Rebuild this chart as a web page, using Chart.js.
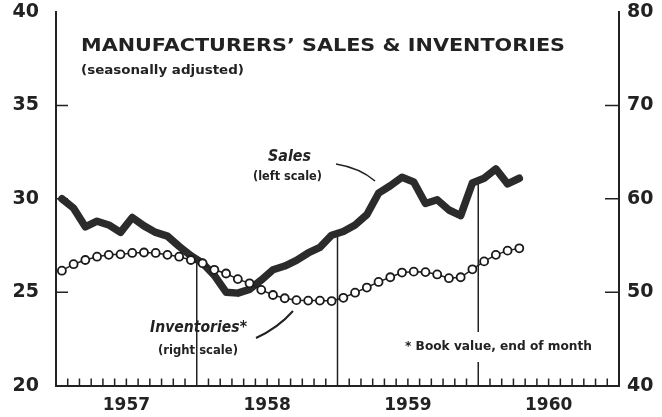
<!DOCTYPE html>
<html>
<head>
    <meta charset="UTF-8">
    <title>Manufacturers' Sales & Inventories</title>
    <style>
        html, body { margin: 0; padding: 0; background: #fff; }
        #wrap { width: 662px; height: 417px; }
    </style>
</head>
<body>
    <div id="wrap"><canvas id="chart" width="662" height="417"></canvas></div>
    <script src="https://cdn.jsdelivr.net/npm/chart.js"></script>
    <script>
        const years = ["1957", "1958", "1959", "1960"];
        const monthNames = ["Jan", "Feb", "Mar", "Apr", "May", "Jun", "Jul", "Aug", "Sep", "Oct", "Nov", "Dec"];
        const months = years.flatMap((y) => monthNames.map((m) => m + " " + y));

        // sales, billions of dollars (left scale), Jan 1957 - Apr 1960
        const sales = [
            30.0, 29.5, 28.5, 28.8, 28.6, 28.2, 29.0, 28.55, 28.2, 28.0, 27.45, 26.95,
            26.55, 25.9, 25.0, 24.95, 25.15, 25.65, 26.2, 26.4, 26.7, 27.1, 27.4, 28.05,
            28.25, 28.6, 29.15, 30.3, 30.7, 31.15, 30.9, 29.75, 29.95, 29.4, 29.1, 30.85,
            31.1, 31.6, 30.8, 31.1
        ];
        // inventories, book value end of month (right scale)
        const inventories = [
            52.3, 53.0, 53.45, 53.8, 54.0, 54.05, 54.2, 54.25, 54.2, 54.0, 53.8, 53.45,
            53.1, 52.4, 52.0, 51.4, 50.95, 50.25, 49.7, 49.35, 49.15, 49.1, 49.1, 49.05,
            49.4, 49.95, 50.5, 51.1, 51.6, 52.1, 52.2, 52.15, 51.9, 51.5, 51.6, 52.45,
            53.3, 54.0, 54.45, 54.7
        ];
        const leftTicks = [20, 25, 30, 35, 40];
        const rightTicks = [40, 50, 60, 70, 80];
        const yearLines = [12, 24, 36];

        const ink = "#222";
        const font = "DejaVu Sans";

        function fitText(ctx, text, x, y, w) {
            const m = ctx.measureText(text).width;
            ctx.save();
            ctx.translate(x, y);
            ctx.scale(w / m, 1);
            ctx.fillText(text, 0, 0);
            ctx.restore();
        }

        function noPad(s) {
            s.paddingTop = 0;
            s.paddingBottom = 0;
            s.paddingLeft = 0;
            s.paddingRight = 0;
        }

        const decor = {
            id: "decor",
            beforeDatasetsDraw(chart) {
                const ctx = chart.ctx;
                const area = chart.chartArea;
                const xs = chart.scales.x;
                const yl = chart.scales.y;
                const yr = chart.scales.y1;
                const edge = (i) => (xs.getPixelForValue(i - 1) + xs.getPixelForValue(i)) / 2;
                ctx.save();
                ctx.strokeStyle = ink;
                ctx.lineWidth = 1.5;
                ctx.beginPath();
                for (let i = 1; i < months.length; i++) {
                    if (yearLines.includes(i)) continue;
                    const x = edge(i);
                    ctx.moveTo(x, area.bottom);
                    ctx.lineTo(x, area.bottom - 7);
                }
                [25, 30, 35].forEach((v) => {
                    const y = yl.getPixelForValue(v);
                    ctx.moveTo(area.left, y);
                    ctx.lineTo(area.left + 12, y);
                });
                [50, 60, 70].forEach((v) => {
                    const y = yr.getPixelForValue(v);
                    ctx.moveTo(area.right - 14, y);
                    ctx.lineTo(area.right, y);
                });
                ctx.stroke();

                // year dividers run up to the sales line
                const pts = chart.getDatasetMeta(0).data;
                ctx.beginPath();
                yearLines.forEach((i) => {
                    const x = edge(i);
                    const a = pts[i - 1], b = pts[i];
                    const y = a.y + (b.y - a.y) * (x - a.x) / (b.x - a.x);
                    ctx.moveTo(x, area.bottom);
                    ctx.lineTo(x, y);
                });
                ctx.stroke();
                ctx.restore();
            },
            afterDraw(chart) {
                const ctx = chart.ctx;
                ctx.save();
                ctx.fillStyle = ink;
                ctx.textBaseline = "middle";
                ctx.textAlign = "left";

                ctx.font = "bold 18px " + font;
                fitText(ctx, "MANUFACTURERS\u2019 SALES & INVENTORIES", 81, 46, 484);
                ctx.font = "bold 13px " + font;
                fitText(ctx, "(seasonally adjusted)", 81, 71, 163);

                ctx.font = "bold italic 15px " + font;
                fitText(ctx, "Sales", 268, 157, 43);
                ctx.font = "bold 12px " + font;
                fitText(ctx, "(left scale)", 253, 177, 69);

                ctx.font = "bold italic 15px " + font;
                fitText(ctx, "Inventories*", 150, 328, 97);
                ctx.font = "bold 12px " + font;
                fitText(ctx, "(right scale)", 158, 351, 80);

                ctx.fillStyle = "#fff";
                ctx.fillRect(402, 332, 193, 30);
                ctx.fillStyle = ink;
                ctx.font = "bold 12px " + font;
                fitText(ctx, "* Book value, end of month", 405, 347, 187);

                ctx.strokeStyle = ink;
                ctx.lineWidth = 1.6;
                ctx.beginPath();
                ctx.moveTo(336, 164);
                ctx.quadraticCurveTo(360, 168, 375, 181);
                ctx.stroke();
                ctx.lineWidth = 2;
                ctx.beginPath();
                ctx.moveTo(256, 338);
                ctx.quadraticCurveTo(278, 328, 293, 311);
                ctx.stroke();
                ctx.restore();
            }
        };

        new Chart(document.getElementById("chart"), {
            type: "line",
            data: {
                labels: months,
                datasets: [
                    {
                        label: "Sales",
                        data: sales,
                        yAxisID: "y",
                        borderColor: "#2b2b2b",
                        borderWidth: 7.5,
                        borderJoinStyle: "round",
                        borderCapStyle: "round",
                        pointRadius: 0,
                        tension: 0,
                        order: 2
                    },
                    {
                        label: "Inventories",
                        data: inventories,
                        yAxisID: "y1",
                        borderColor: ink,
                        borderWidth: 1.5,
                        pointRadius: 4,
                        pointBorderWidth: 1.8,
                        pointBorderColor: "#1a1a1a",
                        pointBackgroundColor: "#fff",
                        tension: 0,
                        order: 1
                    }
                ]
            },
            options: {
                responsive: false,
                animation: false,
                devicePixelRatio: 1,
                layout: { padding: { top: 12, left: 0, right: 0, bottom: 0 } },
                plugins: {
                    legend: { display: false },
                    tooltip: { enabled: false },
                    title: { display: false }
                },
                scales: {
                    x: {
                        type: "category",
                        offset: true,
                        grid: { display: false, drawTicks: false },
                        border: { display: true, color: ink, width: 2 },
                        afterFit: (s) => { s.height = 31.4; noPad(s); },
                        ticks: {
                            autoSkip: false,
                            maxRotation: 0,
                            padding: 10,
                            labelOffset: 5.9,
                            color: ink,
                            font: { family: font, size: 17, weight: "bold" },
                            callback: (v, i) => (i % 12 === 5 ? years[Math.floor(i / 12)] : "")
                        }
                    },
                    y: {
                        position: "left",
                        min: 20,
                        max: 40,
                        afterBuildTicks: (s) => { s.ticks = leftTicks.map((v) => ({ value: v })); },
                        afterFit: (s) => { s.width = 56; noPad(s); },
                        grid: { display: false, drawTicks: false },
                        border: { display: true, color: ink, width: 2 },
                        ticks: {
                            padding: 17,
                            color: ink,
                            font: { family: font, size: 19, weight: "bold" }
                        }
                    },
                    y1: {
                        position: "right",
                        min: 40,
                        max: 80,
                        afterBuildTicks: (s) => { s.ticks = rightTicks.map((v) => ({ value: v })); },
                        afterFit: (s) => { s.width = 43; noPad(s); },
                        grid: { display: false, drawTicks: false },
                        border: { display: true, color: ink, width: 2 },
                        ticks: {
                            padding: 8,
                            color: ink,
                            font: { family: font, size: 19, weight: "bold" }
                        }
                    }
                }
            },
            plugins: [decor]
        });
    </script>
</body>
</html>
